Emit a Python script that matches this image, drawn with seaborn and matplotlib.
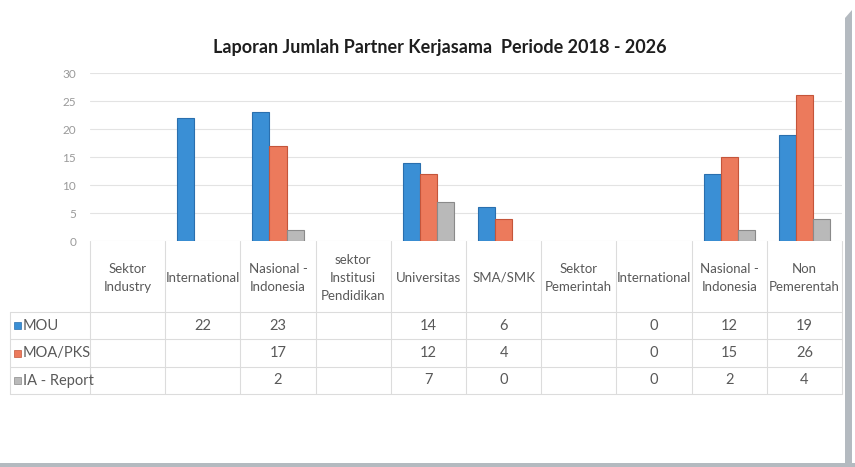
import numpy as np
import pandas as pd
import matplotlib.pyplot as plt
import seaborn as sns
from matplotlib.patches import Polygon, Rectangle
from matplotlib.lines import Line2D

# Data
categories = ["Sektor\nIndustry", "International", "Nasional -\nIndonesia", "sektor\nInstitusi\nPendidikan",
              "Universitas", "SMA/SMK", "Sektor\nPemerintah", "International", "Nasional -\nIndonesia",
              "Non\nPemerentah"]
series = ["MOU", "MOA/PKS", "IA - Report"]
mou = [np.nan, 22, 23, np.nan, 14, 6, np.nan, 0, 12, 19]
moa = [np.nan, np.nan, 17, np.nan, 12, 4, np.nan, 0, 15, 26]
ia = [np.nan, np.nan, 2, np.nan, 7, 0, np.nan, 0, 2, 4]
colors = ["#3a8fd5", "#ec7a5c", "#b9b9b9"]
edges = ["#2a6fae", "#c4553a", "#8a8a8a"]

keys = [f"c{i}" for i in range(len(categories))]
df = pd.DataFrame({"cat": keys, "MOU": mou, "MOA/PKS": moa, "IA - Report": ia})
long = df.melt(id_vars="cat", var_name="series", value_name="value")

sns.set_theme(style="white")
plt.rcParams['font.family'] = ['Lato', 'DejaVu Sans']

W, H = 855, 467
fig = plt.figure(figsize=(W / 100, H / 100), dpi=100)
fig.patch.set_facecolor("white")

x0, x1 = 90, 842
y_top, y_bot = 73, 241
ax = fig.add_axes([x0 / W, 1 - y_bot / H, (x1 - x0) / W, (y_bot - y_top) / H])

sns.barplot(data=long, x="cat", y="value", hue="series", order=keys, hue_order=series,
            palette=colors, width=0.68, ax=ax, legend=False, saturation=1)
for cont, ec in zip(ax.containers, edges):
    for bar in cont:
        bar.set_edgecolor(ec)
        bar.set_linewidth(0.8 if bar.get_height() > 0 else 0)

ax.set_xlim(-0.5, len(categories) - 0.5)
ax.set_ylim(0, 30)
ax.set_yticks(range(0, 31, 5))
ax.set_xticks([])
ax.set_xlabel("")
ax.set_ylabel("")
ax.yaxis.grid(True, color="#e3e3e3", linewidth=0.8)
ax.set_axisbelow(True)
for s in ax.spines.values():
    s.set_visible(False)
ax.tick_params(axis="y", length=0, labelsize=8.5, labelcolor="#9a9a9a", pad=10)
ax.set_facecolor("none")

fig.text(440 / W, 1 - 47 / H, "Laporan Jumlah Partner Kerjasama  Periode 2018 - 2026",
         ha="center", va="center", fontsize=13, fontweight="bold", color="#1e1e1e")

# data table below the axis
def fx(px):
    return px / W

def fy(py):
    return 1 - py / H

n = len(categories)
colw = (x1 - x0) / n
line_c = "#dcdcdc"
row_lines = [312, 339, 367, 394]
for yy in row_lines:
    fig.add_artist(Line2D([fx(10), fx(x1)], [fy(yy), fy(yy)], color=line_c, lw=0.8))
for i in range(n + 1):
    xx = x0 + i * colw
    fig.add_artist(Line2D([fx(xx), fx(xx)], [fy(y_bot), fy(394)], color=line_c, lw=0.8))
fig.add_artist(Line2D([fx(10), fx(10)], [fy(312), fy(394)], color=line_c, lw=0.8))

txt_c = "#595959"
for i, lab in enumerate(categories):
    cx = x0 + (i + 0.5) * colw
    fig.text(fx(cx), fy(278), lab, ha="center", va="center", fontsize=9.5,
             color=txt_c, linespacing=1.55)

row_y = [325.5, 353, 380.5]
for vals, name, c, ec, ry in zip([mou, moa, ia], series, colors, edges, row_y):
    fig.add_artist(Rectangle((fx(14), fy(ry + 3.5)), 7 / W, 7 / H, facecolor=c,
                             edgecolor=ec, lw=0.5, transform=fig.transFigure))
    fig.text(fx(23), fy(ry), name, ha="left", va="center", fontsize=10.5, color=txt_c)
    for i, v in enumerate(vals):
        if not np.isnan(v):
            cx = x0 + (i + 0.5) * colw
            fig.text(fx(cx), fy(ry), f"{int(v)}", ha="center", va="center",
                     fontsize=10.5, color=txt_c)

# frame shadow on the right and bottom
shade = "#b4bac0"
fig.add_artist(Polygon([(fx(845), fy(18)), (fx(852), fy(10)), (fx(852), fy(467)), (fx(845), fy(467))],
                       closed=True, facecolor=shade, edgecolor="none", transform=fig.transFigure))
fig.add_artist(Rectangle((0, 0), 1, 4 / H, facecolor=shade, edgecolor="none",
                         transform=fig.transFigure))

fig.savefig("out.png", dpi=100)
